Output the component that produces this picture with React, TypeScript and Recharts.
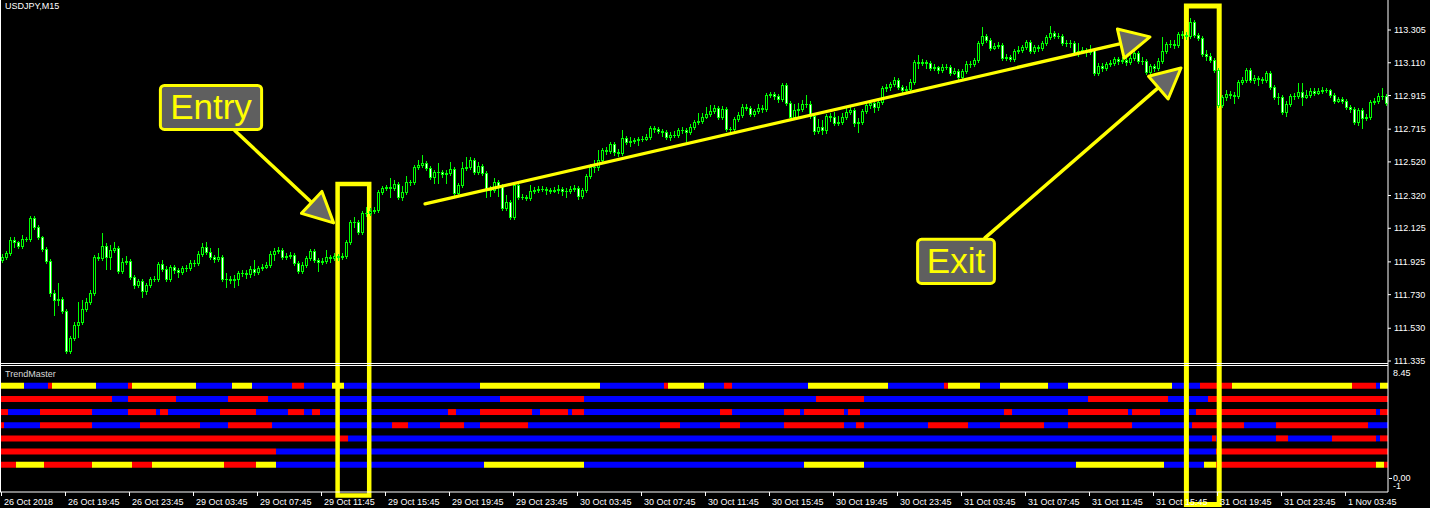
import React from "react";
import { ComposedChart, Bar, XAxis, YAxis, ReferenceArea, ReferenceLine } from "recharts";

// USDJPY M15, 347 bars. Open of each bar = previous close.
const FIRST_OPEN = 111.937;

const CLOSE = [
  111.955, 111.979, 112.056, 112.044, 112.020, 112.062, 112.062, 112.187, 112.133, 112.074,
  112.002, 111.931, 111.741, 111.699, 111.705, 111.634, 111.396, 111.473, 111.550, 111.568,
  111.645, 111.687, 111.741, 111.955, 111.949, 112.020, 111.955, 111.997, 112.008, 111.872,
  111.925, 111.931, 111.836, 111.788, 111.812, 111.753, 111.788, 111.824, 111.824, 111.913,
  111.883, 111.824, 111.895, 111.878, 111.866, 111.889, 111.889, 111.919, 111.919, 111.973,
  112.014, 111.985, 111.955, 111.943, 111.955, 111.824, 111.824, 111.818, 111.824, 111.860,
  111.860, 111.854, 111.883, 111.866, 111.889, 111.895, 111.907, 111.973, 111.991, 111.997,
  111.955, 111.961, 111.967, 111.919, 111.872, 111.907, 111.949, 111.991, 111.937, 111.925,
  111.931, 111.955, 111.949, 111.961, 111.955, 111.961, 112.044, 112.163, 112.163, 112.104,
  112.217, 112.217, 112.229, 112.235, 112.342, 112.365, 112.371, 112.365, 112.389, 112.312,
  112.342, 112.401, 112.401, 112.490, 112.502, 112.514, 112.484, 112.431, 112.461, 112.461,
  112.449, 112.455, 112.478, 112.336, 112.383, 112.484, 112.490, 112.532, 112.461, 112.496,
  112.455, 112.359, 112.354, 112.401, 112.377, 112.246, 112.282, 112.193, 112.383, 112.312,
  112.312, 112.306, 112.348, 112.354, 112.359, 112.359, 112.354, 112.348, 112.354, 112.359,
  112.348, 112.348, 112.359, 112.365, 112.318, 112.354, 112.437, 112.490, 112.490, 112.532,
  112.592, 112.586, 112.627, 112.580, 112.574, 112.663, 112.639, 112.645, 112.651, 112.657,
  112.657, 112.669, 112.722, 112.716, 112.705, 112.699, 112.669, 112.681, 112.681, 112.711,
  112.711, 112.699, 112.728, 112.758, 112.764, 112.788, 112.806, 112.824, 112.841, 112.788,
  112.835, 112.716, 112.716, 112.776, 112.800, 112.847, 112.841, 112.806, 112.824, 112.841,
  112.835, 112.919, 112.925, 112.913, 112.895, 112.978, 112.871, 112.788, 112.830, 112.835,
  112.865, 112.865, 112.794, 112.705, 112.728, 112.711, 112.794, 112.788, 112.752, 112.758,
  112.788, 112.818, 112.830, 112.752, 112.758, 112.824, 112.859, 112.871, 112.847, 112.877,
  112.960, 112.966, 112.984, 113.008, 112.966, 112.949, 112.954, 112.996, 113.115, 113.109,
  113.115, 113.109, 113.079, 113.085, 113.068, 113.085, 113.085, 113.050, 113.062, 113.026,
  113.062, 113.103, 113.103, 113.127, 113.228, 113.270, 113.246, 113.198, 113.210, 113.216,
  113.139, 113.145, 113.133, 113.181, 113.187, 113.204, 113.234, 113.181, 113.204, 113.198,
  113.228, 113.264, 113.288, 113.270, 113.270, 113.228, 113.228, 113.228, 113.169, 113.181,
  113.187, 113.175, 113.187, 113.050, 113.091, 113.079, 113.103, 113.109, 113.133, 113.121,
  113.127, 113.115, 113.139, 113.169, 113.121, 113.121, 113.056, 113.091, 113.079, 113.121,
  113.181, 113.222, 113.222, 113.216, 113.282, 113.276, 113.270, 113.353, 113.276, 113.258,
  113.163, 113.151, 113.127, 113.068, 112.859, 112.907, 112.925, 112.919, 112.913, 112.996,
  113.008, 113.068, 113.008, 113.020, 113.014, 113.008, 113.050, 112.966, 112.907, 112.907,
  112.818, 112.865, 112.913, 112.913, 112.937, 112.907, 112.919, 112.943, 112.931, 112.943,
  112.949, 112.949, 112.919, 112.883, 112.895, 112.883, 112.847, 112.835, 112.758, 112.830,
  112.782, 112.788, 112.877, 112.883, 112.913, 112.913, 112.871,
];

const HIGH = [
  111.973, 111.991, 112.074, 112.074, 112.050, 112.086, 112.074, 112.199, 112.199, 112.145,
  112.080, 112.014, 111.943, 111.759, 111.800, 111.717, 111.645, 111.485, 111.568, 111.687,
  111.699, 111.711, 111.759, 111.967, 111.979, 112.098, 112.038, 112.026, 112.044, 112.020,
  111.949, 111.961, 111.943, 111.848, 111.824, 111.824, 111.800, 111.836, 111.842, 111.925,
  111.937, 111.901, 111.907, 111.907, 111.889, 111.901, 111.907, 111.937, 111.937, 111.991,
  112.038, 112.044, 112.008, 111.967, 112.008, 111.967, 111.860, 111.842, 111.848, 111.872,
  111.878, 111.878, 111.901, 111.937, 111.901, 111.913, 111.925, 111.991, 112.008, 112.014,
  112.008, 111.979, 111.985, 111.979, 111.931, 111.925, 111.961, 112.002, 112.002, 111.949,
  111.949, 111.997, 111.967, 111.979, 111.973, 111.979, 112.056, 112.175, 112.193, 112.175,
  112.229, 112.252, 112.246, 112.252, 112.354, 112.377, 112.383, 112.425, 112.413, 112.401,
  112.377, 112.437, 112.413, 112.502, 112.532, 112.562, 112.526, 112.496, 112.473, 112.514,
  112.473, 112.473, 112.520, 112.490, 112.395, 112.520, 112.550, 112.550, 112.544, 112.520,
  112.508, 112.467, 112.377, 112.425, 112.413, 112.389, 112.324, 112.294, 112.395, 112.395,
  112.330, 112.324, 112.383, 112.371, 112.377, 112.377, 112.371, 112.365, 112.371, 112.383,
  112.371, 112.365, 112.377, 112.383, 112.377, 112.365, 112.449, 112.508, 112.532, 112.592,
  112.603, 112.609, 112.639, 112.639, 112.597, 112.711, 112.675, 112.669, 112.663, 112.669,
  112.675, 112.687, 112.734, 112.734, 112.728, 112.716, 112.711, 112.699, 112.705, 112.722,
  112.728, 112.722, 112.746, 112.770, 112.812, 112.812, 112.847, 112.859, 112.859, 112.853,
  112.853, 112.847, 112.728, 112.788, 112.818, 112.865, 112.865, 112.853, 112.835, 112.865,
  112.859, 112.931, 112.937, 112.937, 112.925, 112.990, 112.990, 112.883, 112.865, 112.871,
  112.889, 112.919, 112.883, 112.806, 112.776, 112.770, 112.806, 112.812, 112.818, 112.794,
  112.812, 112.841, 112.853, 112.841, 112.782, 112.835, 112.871, 112.889, 112.883, 112.889,
  112.972, 112.984, 112.996, 113.026, 113.020, 112.978, 112.972, 113.014, 113.127, 113.157,
  113.133, 113.127, 113.121, 113.103, 113.091, 113.103, 113.103, 113.097, 113.079, 113.073,
  113.073, 113.121, 113.121, 113.139, 113.240, 113.323, 113.282, 113.258, 113.228, 113.234,
  113.228, 113.163, 113.157, 113.192, 113.210, 113.216, 113.246, 113.246, 113.216, 113.216,
  113.240, 113.276, 113.329, 113.300, 113.288, 113.282, 113.246, 113.246, 113.240, 113.228,
  113.204, 113.198, 113.216, 113.198, 113.109, 113.109, 113.115, 113.127, 113.145, 113.145,
  113.145, 113.139, 113.157, 113.181, 113.181, 113.145, 113.133, 113.103, 113.103, 113.139,
  113.264, 113.234, 113.246, 113.246, 113.294, 113.300, 113.294, 113.377, 113.365, 113.288,
  113.270, 113.187, 113.169, 113.139, 113.079, 112.919, 112.949, 112.943, 112.937, 113.008,
  113.026, 113.079, 113.079, 113.038, 113.032, 113.026, 113.062, 113.062, 112.978, 112.931,
  112.919, 112.883, 112.925, 112.931, 112.990, 112.990, 112.949, 112.960, 112.960, 112.960,
  112.966, 112.960, 112.954, 112.931, 112.907, 112.907, 112.895, 112.859, 112.847, 112.841,
  112.841, 112.806, 112.889, 112.901, 112.931, 112.960, 112.925,
];

const LOW = [
  111.925, 111.943, 111.967, 112.014, 112.008, 112.008, 112.050, 112.050, 112.121, 112.062,
  111.991, 111.919, 111.723, 111.610, 111.669, 111.622, 111.384, 111.384, 111.461, 111.479,
  111.556, 111.634, 111.675, 111.729, 111.937, 111.937, 111.883, 111.883, 111.985, 111.860,
  111.860, 111.913, 111.824, 111.770, 111.776, 111.717, 111.735, 111.776, 111.812, 111.812,
  111.872, 111.812, 111.812, 111.860, 111.836, 111.854, 111.872, 111.878, 111.901, 111.907,
  111.961, 111.973, 111.943, 111.925, 111.931, 111.812, 111.776, 111.800, 111.776, 111.788,
  111.842, 111.830, 111.836, 111.848, 111.854, 111.878, 111.889, 111.895, 111.937, 111.979,
  111.943, 111.943, 111.949, 111.907, 111.860, 111.860, 111.895, 111.937, 111.925, 111.872,
  111.913, 111.919, 111.925, 111.937, 111.937, 111.943, 111.949, 112.032, 112.133, 112.092,
  112.092, 112.199, 112.205, 112.217, 112.223, 112.330, 112.354, 112.312, 112.354, 112.300,
  112.294, 112.330, 112.383, 112.389, 112.478, 112.490, 112.473, 112.419, 112.395, 112.395,
  112.431, 112.395, 112.443, 112.324, 112.324, 112.371, 112.473, 112.478, 112.449, 112.449,
  112.443, 112.312, 112.318, 112.342, 112.318, 112.235, 112.235, 112.181, 112.181, 112.300,
  112.300, 112.294, 112.294, 112.336, 112.342, 112.348, 112.330, 112.336, 112.342, 112.336,
  112.324, 112.312, 112.336, 112.348, 112.300, 112.306, 112.342, 112.425, 112.461, 112.473,
  112.520, 112.568, 112.574, 112.562, 112.556, 112.562, 112.627, 112.615, 112.633, 112.621,
  112.645, 112.651, 112.657, 112.699, 112.693, 112.675, 112.657, 112.651, 112.669, 112.669,
  112.693, 112.645, 112.687, 112.716, 112.746, 112.752, 112.782, 112.794, 112.812, 112.776,
  112.776, 112.705, 112.687, 112.705, 112.764, 112.788, 112.830, 112.794, 112.794, 112.812,
  112.818, 112.824, 112.907, 112.895, 112.877, 112.883, 112.859, 112.776, 112.776, 112.794,
  112.824, 112.847, 112.782, 112.687, 112.693, 112.687, 112.693, 112.764, 112.740, 112.740,
  112.746, 112.776, 112.806, 112.734, 112.699, 112.746, 112.812, 112.841, 112.818, 112.830,
  112.865, 112.943, 112.949, 112.972, 112.954, 112.937, 112.937, 112.937, 112.984, 113.079,
  113.097, 113.079, 113.068, 113.068, 113.050, 113.056, 113.073, 113.038, 113.044, 113.014,
  113.014, 113.050, 113.085, 113.091, 113.115, 113.216, 113.234, 113.187, 113.192, 113.198,
  113.127, 113.127, 113.121, 113.121, 113.169, 113.175, 113.192, 113.169, 113.169, 113.181,
  113.187, 113.216, 113.252, 113.258, 113.258, 113.216, 113.210, 113.204, 113.157, 113.151,
  113.169, 113.151, 113.163, 113.038, 113.038, 113.062, 113.068, 113.091, 113.097, 113.103,
  113.109, 113.097, 113.103, 113.127, 113.109, 113.103, 113.044, 113.044, 113.062, 113.068,
  113.109, 113.169, 113.204, 113.198, 113.204, 113.258, 113.252, 113.258, 113.264, 113.246,
  113.151, 113.127, 113.115, 113.056, 112.847, 112.847, 112.889, 112.901, 112.871, 112.901,
  112.984, 112.996, 112.996, 112.990, 112.978, 112.990, 112.996, 112.954, 112.895, 112.865,
  112.806, 112.794, 112.853, 112.895, 112.901, 112.859, 112.901, 112.907, 112.919, 112.925,
  112.931, 112.937, 112.907, 112.871, 112.877, 112.871, 112.835, 112.818, 112.746, 112.740,
  112.722, 112.770, 112.776, 112.865, 112.871, 112.895, 112.859,
];

const PRICE_TICKS = [113.305, 113.11, 112.915, 112.715, 112.52, 112.32, 112.125, 111.925, 111.73, 111.53, 111.335];

const TIME_TICKS = [0, 16, 32, 48, 64, 80, 96, 112, 128, 144, 160, 176, 192, 208, 224, 240, 256, 272, 288, 304, 320, 336];
const TIME_LABELS = [
  "26 Oct 2018", "26 Oct 19:45", "26 Oct 23:45", "29 Oct 03:45", "29 Oct 07:45", "29 Oct 11:45",
  "29 Oct 15:45", "29 Oct 19:45", "29 Oct 23:45", "30 Oct 03:45", "30 Oct 07:45", "30 Oct 11:45",
  "30 Oct 15:45", "30 Oct 19:45", "30 Oct 23:45", "31 Oct 03:45", "31 Oct 07:45", "31 Oct 11:45",
  "31 Oct 15:45", "31 Oct 19:45", "31 Oct 23:45", "1 Nov 03:45",
];

// TrendMaster rows: [first bar, colour] runs, top row first
type Run = [number, string];
const TM_ROW_1: Run[] = [[0, "Y"], [6, "B"], [12, "R"], [13, "Y"], [24, "B"], [32, "R"], [33, "Y"], [49, "B"], [58, "Y"], [63, "B"], [73, "R"], [76, "B"], [83, "Y"], [86, "B"], [120, "Y"], [150, "B"], [166, "R"], [167, "Y"], [176, "B"], [181, "R"], [183, "B"], [202, "Y"], [222, "B"], [236, "R"], [237, "Y"], [245, "B"], [250, "Y"], [262, "B"], [267, "Y"], [293, "B"], [300, "R"], [308, "Y"], [338, "R"], [344, "B"], [345, "Y"]];
const TM_ROW_2: Run[] = [[0, "R"], [28, "B"], [32, "R"], [44, "B"], [57, "R"], [67, "B"], [125, "R"], [146, "B"], [204, "R"], [216, "B"], [272, "R"], [292, "B"], [302, "R"]];
const TM_ROW_3: Run[] = [[0, "R"], [2, "B"], [10, "R"], [23, "B"], [32, "R"], [39, "B"], [40, "R"], [42, "B"], [55, "R"], [64, "B"], [72, "R"], [76, "B"], [78, "R"], [80, "B"], [112, "R"], [114, "B"], [120, "R"], [133, "B"], [135, "R"], [142, "B"], [143, "R"], [146, "B"], [180, "R"], [183, "B"], [196, "R"], [200, "B"], [201, "R"], [211, "B"], [212, "R"], [215, "B"], [251, "R"], [253, "B"], [267, "R"], [282, "B"], [283, "R"], [290, "B"], [299, "R"], [344, "B"], [345, "R"]];
const TM_ROW_4: Run[] = [[0, "R"], [1, "B"], [10, "R"], [23, "B"], [35, "R"], [50, "B"], [57, "R"], [68, "B"], [98, "R"], [102, "B"], [110, "R"], [116, "B"], [120, "R"], [132, "B"], [165, "R"], [170, "B"], [180, "R"], [185, "B"], [196, "R"], [211, "B"], [214, "R"], [216, "B"], [232, "R"], [242, "B"], [250, "R"], [261, "B"], [267, "R"], [283, "B"], [298, "R"], [311, "B"], [319, "R"], [342, "B"]];
const TM_ROW_5: Run[] = [[0, "R"], [87, "B"], [303, "R"], [304, "B"], [319, "R"], [322, "B"], [333, "R"], [344, "B"], [345, "R"]];
const TM_ROW_6: Run[] = [[0, "R"], [69, "B"], [304, "R"]];
const TM_ROW_7: Run[] = [[0, "R"], [4, "Y"], [11, "R"], [23, "Y"], [33, "R"], [38, "Y"], [56, "R"], [64, "Y"], [69, "B"], [121, "Y"], [146, "B"], [201, "Y"], [216, "B"], [269, "Y"], [291, "B"], [301, "Y"], [304, "R"], [344, "Y"], [346, "R"]];
const TM_ROWS = [TM_ROW_1, TM_ROW_2, TM_ROW_3, TM_ROW_4, TM_ROW_5, TM_ROW_6, TM_ROW_7];

// drawings on the chart, in bar / price units
const ENTRY_FRAME = { x1: 83.9, x2: 91.8, y1: 110.534, y2: 112.388 };
const EXIT_FRAME = { x1: 296.1, x2: 304.3, y1: 110.481, y2: 113.448 };
const ENTRY_TAG = { x1: 39.6, x2: 64.9, y1: 112.713, y2: 112.975, text: "Entry" };
const EXIT_TAG = { x1: 228.9, x2: 248.1, y1: 111.797, y2: 112.059, text: "Exit" };
const ARROWS = [
  { from: [58.25, 112.705], to: [82.9, 112.157], w: 3.5 },
  { from: [245.75, 112.068], to: [294.75, 113.079], w: 3.5 },
  { from: [105.75, 112.27], to: [287.0, 113.264], w: 3.2 },
];

const FONT = "'Liberation Sans', Arial, sans-serif";
const LIME = "#00ff00";
const YELLOW = "#ffff00";
const RUN_COLORS: Record<string, string> = { Y: "#ffff00", B: "#0000ff", R: "#ff0000" };
const BAR_COUNT = CLOSE.length;

// price pane: 113.305 at y=30, 111.335 at y=361 of the 492px plot
const PRICE_DOMAIN: [number, number] = [110.5554, 113.4836];
// indicator pane: level 7 at y=386, level 1 at y=465
const IND_DOMAIN: [number, number] = [-1.071, 36.295];

const candles = CLOSE.map((c, i) => {
  const o = i === 0 ? FIRST_OPEN : CLOSE[i - 1];
  const h = Math.max(HIGH[i], o, c);
  const l = Math.min(LOW[i], o, c);
  return { i, o, c, h, l, range: [l, h] };
});

function Candle(props: any) {
  const { x, y, width, height, payload } = props;
  if (x == null || !payload) return null;
  const { o, c, h, l } = payload;
  const span = h - l;
  const py = (v: number) => (span > 0 ? y + ((h - v) / span) * height : y);
  const cx = Math.round(x + width / 2);
  const top = Math.round(py(Math.max(o, c)));
  const bot = Math.round(py(Math.min(o, c)));
  const yh = Math.round(y);
  const yl = Math.round(y + height);
  return (
    <g shapeRendering="crispEdges">
      <line x1={cx + 0.5} x2={cx + 0.5} y1={yh} y2={yl + 1} stroke={LIME} strokeWidth={1} />
      {bot - top < 1 ? (
        <line x1={cx - 1} x2={cx + 2} y1={top + 0.5} y2={top + 0.5} stroke={LIME} strokeWidth={1} />
      ) : (
        <rect x={cx - 0.5} y={top + 0.5} width={2} height={bot - top} fill={c > o ? "#000" : "#ffffff"} stroke={LIME} strokeWidth={1} />
      )}
    </g>
  );
}

function TimeTick(props: any) {
  const { x, y, payload } = props;
  const k = TIME_TICKS.indexOf(payload.value);
  const tx = Math.round(x) - 0.5;
  return (
    <g>
      <line x1={tx} x2={tx} y1={y} y2={y + 4} stroke="#fff" strokeWidth={1} />
      <text x={tx + 2.5} y={y + 12.5} fill="#fff" fontSize={9} fontFamily={FONT}>
        {TIME_LABELS[k]}
      </text>
    </g>
  );
}

function PriceTick(props: any) {
  const { x, y, payload } = props;
  return (
    <text x={x} y={y} dy="0.35em" fill="#fff" fontSize={9} fontFamily={FONT}>
      {Number(payload.value).toFixed(3)}
    </text>
  );
}

function IndLabel(props: any) {
  const { viewBox, text, dy, dash } = props;
  if (!viewBox) return null;
  const x = viewBox.x + viewBox.width;
  const y = viewBox.y + dy;
  return (
    <g>
      {dash && <line x1={x + 1} x2={x + 4} y1={Math.round(y) + 0.5} y2={Math.round(y) + 0.5} stroke="#fff" />}
      <text x={x + 5} y={y} dy="0.35em" fill="#fff" fontSize={9} fontFamily={FONT}>
        {text}
      </text>
    </g>
  );
}

const tagShape = (text: string) => (p: any) => {
  const { x, y, width, height } = p;
  return (
    <g>
      <rect x={x} y={y} width={width} height={height} rx={4} fill="#5f5f5f" stroke={YELLOW} strokeWidth={3} />
      <text x={x + width / 2} y={y + height / 2 + 11.5} textAnchor="middle" fill={YELLOW} fontSize={35} fontFamily={FONT}>
        {text}
      </text>
    </g>
  );
};

const arrowShape = (w: number) => (p: any) => {
  const { x1, y1, x2, y2 } = p;
  if (x1 == null) return null;
  const dx = x2 - x1;
  const dy = y2 - y1;
  const len = Math.hypot(dx, dy) || 1;
  const ux = dx / len;
  const uy = dy / len;
  const L = 30;
  const Wd = 15;
  const bx = x2 - ux * L;
  const by = y2 - uy * L;
  const pts = `${x2},${y2} ${bx - uy * Wd},${by + ux * Wd} ${bx + uy * Wd},${by - ux * Wd}`;
  return (
    <g>
      <line x1={x1} y1={y1} x2={bx} y2={by} stroke={YELLOW} strokeWidth={w} strokeLinecap="round" />
      <polygon points={pts} fill="#666666" stroke={YELLOW} strokeWidth={3} strokeLinejoin="round" />
    </g>
  );
};

export default function App() {
  const runs: React.ReactNode[] = [];
  TM_ROWS.forEach((row, r) => {
    const level = 7 - r;
    row.forEach(([start, code], j) => {
      const end = j + 1 < row.length ? row[j + 1][0] : BAR_COUNT;
      runs.push(
        <ReferenceArea
          key={`tm-${r}-${j}`}
          yAxisId="ind"
          x1={start - 0.5}
          x2={end - 0.5}
          y1={level - 0.228}
          y2={level + 0.228}
          fill={RUN_COLORS[code]}
          fillOpacity={1}
          stroke="none"
          ifOverflow="visible"
        />
      );
    });
  });

  return (
    <div style={{ position: "fixed", left: 0, top: 0, width: 1430, height: 508, background: "#000", overflow: "hidden" }}>
      <ComposedChart
        width={1430}
        height={508}
        data={candles}
        margin={{ top: 0, right: 0, bottom: 0, left: 0 }}
        style={{ position: "absolute", left: 0, top: 0 }}
      >
        <XAxis
          dataKey="i"
          type="number"
          domain={[-0.5, BAR_COUNT - 0.5]}
          allowDataOverflow
          ticks={TIME_TICKS}
          interval={0}
          height={16}
          tickSize={0}
          tickMargin={0}
          tickLine={false}
          axisLine={{ stroke: "#fff", strokeWidth: 1 }}
          tick={<TimeTick />}
        />
        <YAxis
          yAxisId="price"
          orientation="right"
          type="number"
          domain={PRICE_DOMAIN}
          allowDataOverflow
          ticks={PRICE_TICKS}
          interval={0}
          width={42}
          tickSize={3}
          tickMargin={3}
          tickLine={{ stroke: "#fff" }}
          axisLine={{ stroke: "#fff", strokeWidth: 1 }}
          tick={<PriceTick />}
        />
        <YAxis yAxisId="ind" type="number" domain={IND_DOMAIN} allowDataOverflow hide />

        {runs}

        <ReferenceLine yAxisId="ind" y={8.45} stroke="none" label={<IndLabel text="8.45" dy={6.5} />} />
        <ReferenceLine yAxisId="ind" y={0} stroke="none" label={<IndLabel text="0,00" dy={0} dash />} />
        <ReferenceLine yAxisId="ind" y={-1} stroke="none" label={<IndLabel text="-1" dy={-5} />} />

        <Bar
          yAxisId="price"
          dataKey="range"
          barSize={3}
          isAnimationActive={false}
          shape={(p: any) => <Candle {...p} />}
        />

        {ARROWS.map((a, k) => (
          <ReferenceLine
            key={`arrow-${k}`}
            yAxisId="price"
            segment={[
              { x: a.from[0], y: a.from[1] },
              { x: a.to[0], y: a.to[1] },
            ]}
            ifOverflow="visible"
            shape={arrowShape(a.w)}
          />
        ))}
        <ReferenceArea yAxisId="price" {...ENTRY_TAG} ifOverflow="visible" shape={tagShape(ENTRY_TAG.text)} />
        <ReferenceArea yAxisId="price" {...EXIT_TAG} ifOverflow="visible" shape={tagShape(EXIT_TAG.text)} />
        <ReferenceArea yAxisId="price" {...ENTRY_FRAME} ifOverflow="visible" fill="none" fillOpacity={0} stroke={YELLOW} strokeWidth={4.5} />
        <ReferenceArea yAxisId="price" {...EXIT_FRAME} ifOverflow="visible" fill="none" fillOpacity={0} stroke={YELLOW} strokeWidth={5} />
      </ComposedChart>

      {/* window frame and pane separators */}
      <div style={{ position: "absolute", left: 0, top: 0, width: 1, height: 492, background: "#fff" }} />
      <div style={{ position: "absolute", left: 0, top: 363, width: 1388, height: 1, background: "#fff" }} />
      <div style={{ position: "absolute", left: 0, top: 365, width: 1388, height: 1, background: "#fff" }} />

      <div style={{ position: "absolute", left: 5, top: 2, color: "#fff", fontSize: 9, lineHeight: "9px", fontFamily: FONT }}>
        USDJPY,M15
      </div>
      <div style={{ position: "absolute", left: 5, top: 370, color: "#d8d8d8", fontSize: 9, lineHeight: "9px", fontFamily: FONT }}>
        TrendMaster
      </div>
    </div>
  );
}
